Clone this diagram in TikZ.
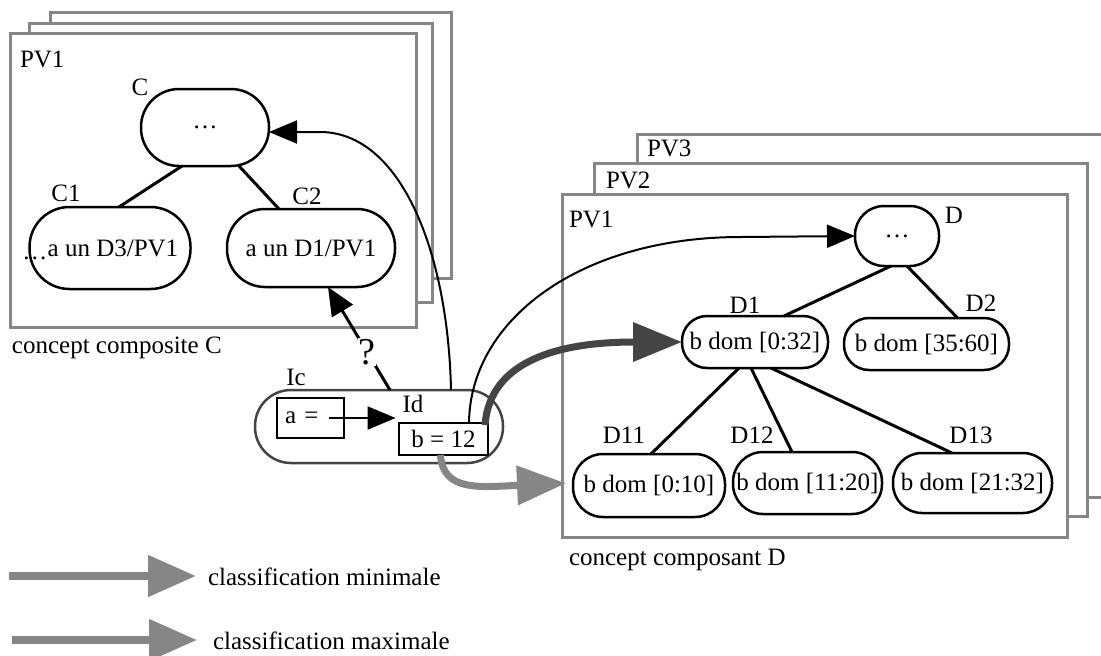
\documentclass[tikz,border=0pt]{standalone}
\usepackage{fontspec}
\setmainfont{Liberation Serif}
\usetikzlibrary{arrows.meta,calc}
\definecolor{fr}{HTML}{868686}
\definecolor{dk}{HTML}{444444}
\begin{document}
\begin{tikzpicture}[x=1pt,y=-1pt,
 every node/.style={font=\fontsize{25}{30}\selectfont, inner sep=0pt, outer sep=0pt},
 frame/.style={draw=fr, line width=3pt, fill=white},
 stad/.style={draw, line width=2.5pt, fill=white, rounded corners=#1},
 box/.style={draw, line width=2.5pt, fill=white},
 branch/.style={line width=3pt},
 link/.style={line width=2pt, -{Triangle[length=28pt,width=23pt]}},
 bigdark/.style={line width=7pt, draw=dk, -{Triangle[length=49pt,width=38pt]}},
 biggray/.style={line width=7pt, draw=fr, -{Triangle[length=49pt,width=38pt]}},
 legarrow/.style={line width=8pt, draw=fr, -{Triangle[length=48pt,width=40pt]}},
]
\useasboundingbox (0,0) rectangle (1101,656);

% left frames
\draw[frame] (50,12) rectangle (451,278);
\draw[frame] (29,23) rectangle (432,302);
\draw[frame] (10,33) rectangle (416,327);
% right frames
\fill[white] (637,134) rectangle (1101,497);
\draw[draw=fr, line width=3pt] (1101,134) -- (637,134) -- (637,497) -- (1101,497);
\draw[frame] (594,163) rectangle (1087,516);
\draw[frame] (562,194) rectangle (1067,537);

% frame labels and captions
\node[anchor=west] (pvl) at (20,59) {PV1};
\node[anchor=west] (pv1) at (569,219) {PV1};
\node[anchor=west] (pv2) at (606,180) {PV2};
\node[anchor=west] (pv3) at (647,148) {PV3};
\node[anchor=west] (capC) at (12,348) {concept composite C};
\node[anchor=west] (capD) at (569,560) {concept composant D};

% composite concept tree
\node[stad=38pt, minimum width=128pt, minimum height=77pt] (C) at (205,127.5) {…};
\node[stad=40pt, minimum width=161pt, minimum height=82pt] (C1) at (110,248) {\hspace{6pt}a un D3/PV1};
\node[stad=38pt, minimum width=168pt, minimum height=78pt] (C2) at (311,248) {a un D1/PV1};
\node (lC) at (140,87) {C};
\node (lC1) at (66,193) {C1};
\node (lC2) at (307,196) {C2};
\node (dots) at (35,258) {…};

% individual
\node[stad=36pt, draw=dk, minimum width=248pt, minimum height=73pt] (Ic) at (379,426.5) {};
\node (lIc) at (296,377) {Ic};
\node[box, minimum width=67pt, minimum height=40pt, text width=51pt, inner xsep=8pt, align=left] (abox) at (310.5,418) {a =};
\node[box, minimum width=89pt, minimum height=32pt] (bbox) at (443.5,439) {b = 12};
\node (lId) at (413,404) {Id};

% component concept tree
\node[stad=29pt, minimum width=84pt, minimum height=60pt] (D) at (897,236) {…};
\node[stad=25pt, minimum width=146pt, minimum height=52pt] (D1) at (755,342) {b dom [0:32]};
\node[stad=25pt, minimum width=165pt, minimum height=52pt] (D2) at (926.5,344) {b dom [35:60]};
\node[stad=30pt, minimum width=152pt, minimum height=63pt] (D11) at (649,485.5) {b dom [0:10]};
\node[stad=30pt, minimum width=149pt, minimum height=62pt] (D12) at (807.5,483) {b dom [11:20]};
\node[stad=29pt, minimum width=159pt, minimum height=60pt] (D13) at (972.5,483) {b dom [21:32]};
\node (lD) at (954,215) {D};
\node (lD1) at (745,305) {D1};
\node (lD2) at (981,303) {D2};
\node (lD11) at (624,435) {D11};
\node (lD12) at (752,435) {D12};
\node (lD13) at (971,435) {D13};

% tree branches
\draw[branch] ($(C.south)+(-23,0)$) -- ($(C1.north)+(9,0)$);
\draw[branch] ($(C.south)+(34,0)$) -- ($(C2.north)+(-32,0)$);
\draw[branch] ($(D.south)+(-6,0)$) -- ($(D1.north)+(29,0)$);
\draw[branch] ($(D.south)+(10,0)$) -- ($(D2.north)+(31,0)$);
\draw[branch] ($(D1.south)+(-16,0)$) -- ($(D11.north)+(2,0)$);
\draw[branch] ($(D1.south)+(-4,0)$) -- ($(D12.north)+(-15.5,0)$);
\draw[branch] ($(D1.south)+(16,0)$) -- ($(D13.north)+(-20.5,0)$);

% connectors
\draw[link] ($(abox.east)+(-15,0)$) -- ($(lId.west)+(-7,14)$);
\draw[link] ($(Ic.north)+(72,0)$) .. controls (448,250) and (400,132) .. (320,132) -- ($(C.east)+(0,4.5)$);
\draw[link] ($(bbox.north)+(25.5,0)$) .. controls (470,320) and (580,237) .. (741,237) -- (D.west);
\draw[line width=3pt, -{Triangle[length=28pt,width=24pt]}] ($(Ic.north)+(11,0)$) -- node[pos=0.37, fill=white, inner sep=1pt, font=\fontsize{38}{40}\selectfont] (qm) {?} ($(C2.south)+(17,0)$);
\draw[bigdark] ($(bbox.north east)+(-3,2)$) .. controls (490,360) and (560,342) .. (D1.west);
\draw[biggray, shorten >=7pt] ($(bbox.south)+(-3,0)$) .. controls (443,492) and (480,487) .. ($(D11.west)+(0,-2.5)$);

% legend
\node[anchor=west] (leg1) at (208,577) {classification minimale};
\node[anchor=west] (leg2) at (213,641) {classification maximale};
\coordinate (lg1) at (9,576);
\coordinate (lg2) at (12,640);
\draw[legarrow, shorten >=12pt] (lg1) -- (lg1 -| leg1.west);
\draw[legarrow, shorten >=16pt] (lg2) -- (lg2 -| leg2.west);
\end{tikzpicture}
\end{document}
